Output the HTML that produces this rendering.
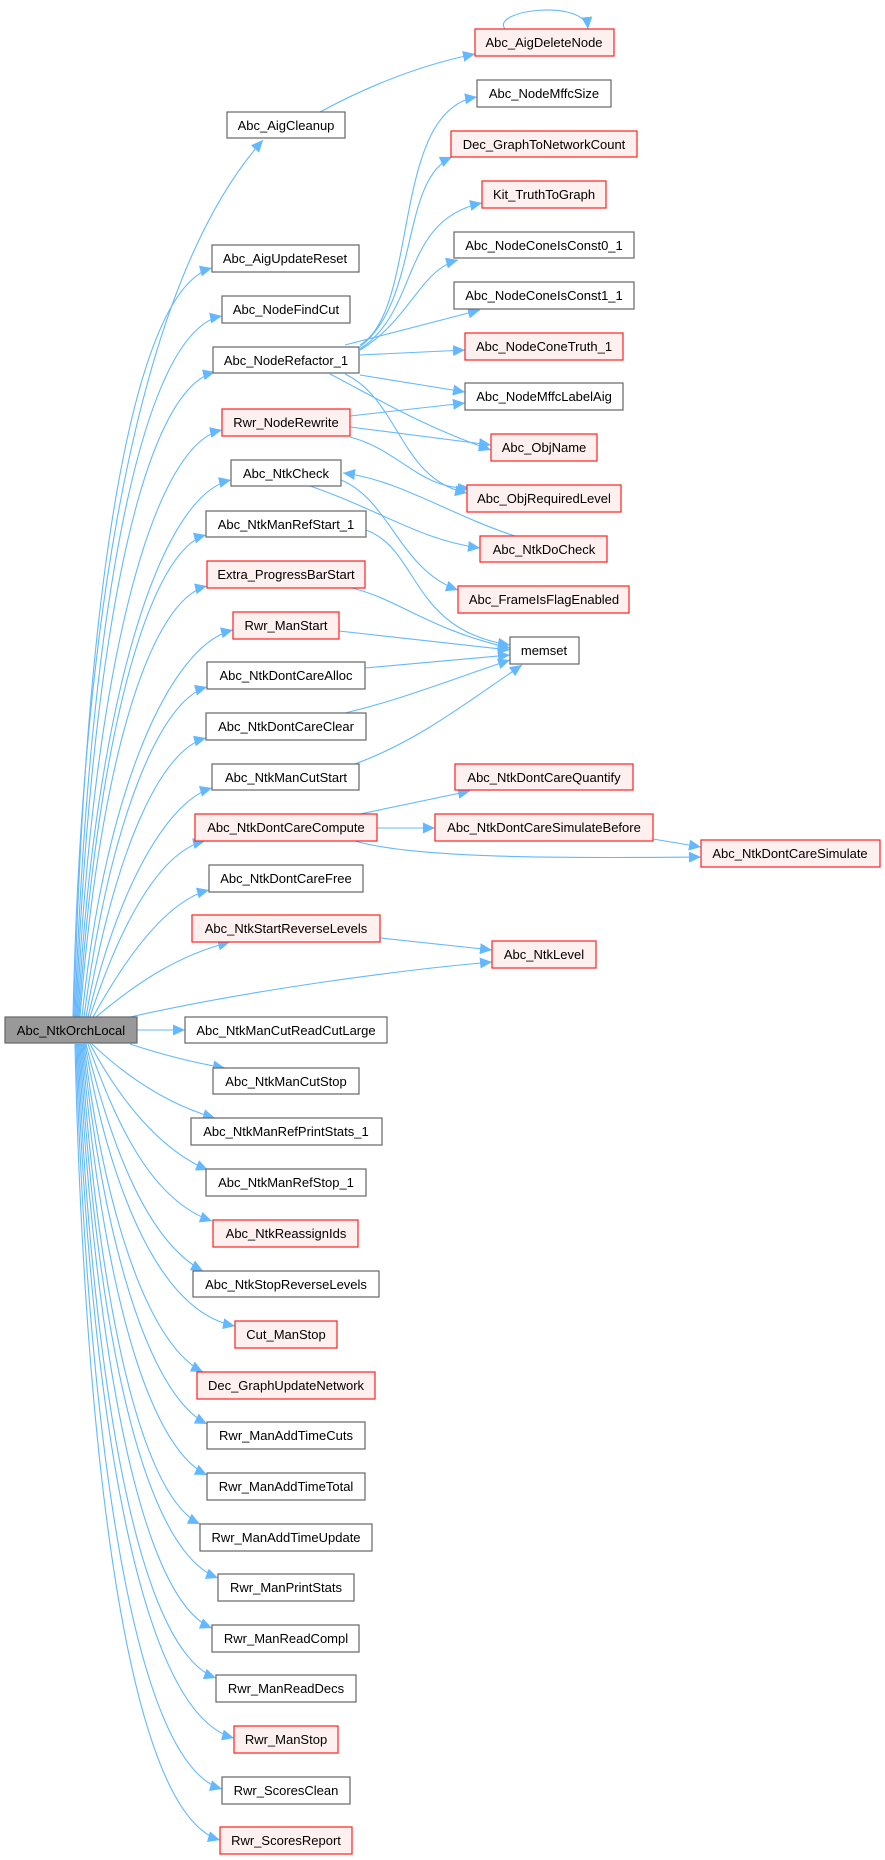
<!DOCTYPE html>
<html><head><meta charset="utf-8"><style>
html,body{margin:0;padding:0;background:#fff;}
svg{display:block;}
text{font-family:"Liberation Sans",sans-serif;font-size:13px;fill:#000;}
.n{fill:#fff;stroke:#666;stroke-width:1.2}
.r{fill:#fff0f0;stroke:#ff2020;stroke-width:1.2}
.e{fill:none;stroke:#63b8ff;stroke-width:1.1;marker-end:url(#a)}
</style></head><body>
<svg width="885" height="1860" viewBox="0 0 885 1860" xmlns="http://www.w3.org/2000/svg">
<defs><marker id="a" markerUnits="userSpaceOnUse" markerWidth="14" markerHeight="12" refX="12" refY="6" orient="auto"><path d="M0,0.5 L12,6 L0,11.5 Z" fill="#63b8ff"/></marker></defs>
<g>
<path class="e" d="M73,1017 C80,700 120,300 263,140"/>
<path class="e" d="M74,1017 C85,600 130,290 212,268"/>
<path class="e" d="M75,1017 C88,620 140,330 222,316"/>
<path class="e" d="M76,1017 C90,650 140,390 215,372"/>
<path class="e" d="M77,1017 C92,680 150,445 222,430"/>
<path class="e" d="M78,1017 C95,700 160,495 231,480"/>
<path class="e" d="M79,1017 C98,730 150,550 206,535"/>
<path class="e" d="M80,1017 C100,760 150,600 207,586"/>
<path class="e" d="M82,1017 C105,790 170,645 233,630"/>
<path class="e" d="M84,1017 C110,820 160,700 207,687"/>
<path class="e" d="M86,1017 C115,850 160,750 206,738"/>
<path class="e" d="M88,1017 C120,880 170,800 212,788"/>
<path class="e" d="M90,1017 C125,910 165,850 205,841"/>
<path class="e" d="M93,1017 C130,950 170,900 209,890"/>
<path class="e" d="M96,1017 C140,980 180,955 230,942"/>
<path class="e" d="M130,1017 C250,990 400,970 492,962"/>
<path class="e" d="M137,1030 L185,1030"/>
<path class="e" d="M130,1044 C160,1054 190,1062 225,1068"/>
<path class="e" d="M92,1044 C130,1080 170,1105 215,1118"/>
<path class="e" d="M90,1044 C120,1100 160,1150 208,1170"/>
<path class="e" d="M88,1044 C115,1120 150,1200 212,1221"/>
<path class="e" d="M86,1044 C110,1140 145,1240 203,1271"/>
<path class="e" d="M85,1044 C105,1160 150,1310 235,1326"/>
<path class="e" d="M84,1044 C100,1180 140,1340 203,1372"/>
<path class="e" d="M83,1044 C98,1200 140,1390 207,1424"/>
<path class="e" d="M82,1044 C96,1220 135,1440 207,1475"/>
<path class="e" d="M81,1044 C94,1240 130,1490 200,1524"/>
<path class="e" d="M80,1044 C92,1260 130,1545 218,1578"/>
<path class="e" d="M79,1044 C90,1280 130,1595 212,1628"/>
<path class="e" d="M78,1044 C88,1300 125,1645 216,1678"/>
<path class="e" d="M77,1044 C86,1320 125,1710 234,1738"/>
<path class="e" d="M76,1044 C84,1340 120,1760 222,1789"/>
<path class="e" d="M75,1044 C82,1360 115,1810 220,1840"/>
<path class="e" d="M320,112 C370,85 420,65 475,54"/>
<path class="e" d="M505,29 C490,10 585,-2 588,29"/>
<path class="e" d="M360,345 C420,310 390,110 477,97"/>
<path class="e" d="M360,347 C420,300 400,180 452,157"/>
<path class="e" d="M360,349 C420,310 400,220 482,203"/>
<path class="e" d="M360,350 C410,320 420,270 458,260"/>
<path class="e" d="M345,345 L480,310"/>
<path class="e" d="M360,355 L465,350"/>
<path class="e" d="M360,375 L465,392"/>
<path class="e" d="M330,374 C380,400 420,425 491,450"/>
<path class="e" d="M345,374 C400,400 400,480 467,493"/>
<path class="e" d="M350,416 L465,403"/>
<path class="e" d="M350,427 L491,445"/>
<path class="e" d="M350,437 C400,450 420,490 470,488"/>
<path class="e" d="M310,486 C380,510 420,540 480,548"/>
<path class="e" d="M341,480 C390,500 400,570 458,590"/>
<path class="e" d="M515,536 C450,515 400,480 343,473"/>
<path class="e" d="M366,530 C420,550 410,630 510,645"/>
<path class="e" d="M352,588 C400,600 430,630 510,648"/>
<path class="e" d="M339,631 L510,650"/>
<path class="e" d="M365,668 L510,655"/>
<path class="e" d="M345,713 C400,700 450,680 510,660"/>
<path class="e" d="M355,764 C420,740 470,700 522,665"/>
<path class="e" d="M360,814 L470,791"/>
<path class="e" d="M377,828 L435,828"/>
<path class="e" d="M355,841 C420,860 600,858 701,857"/>
<path class="e" d="M653,839 L701,847"/>
<path class="e" d="M380,938 L492,950"/>
</g>
<g text-anchor="middle">
<rect x="5" y="1017" width="132" height="26" fill="#999" stroke="#666" stroke-width="1.2"/><text x="71" y="1035">Abc_NtkOrchLocal</text>
<rect class="n" x="227" y="112" width="118" height="26"/><text x="286" y="130">Abc_AigCleanup</text>
<rect class="n" x="212" y="245" width="147" height="27"/><text x="285" y="263">Abc_AigUpdateReset</text>
<rect class="n" x="222" y="296" width="128" height="27"/><text x="286" y="314">Abc_NodeFindCut</text>
<rect class="n" x="213" y="347" width="146" height="26"/><text x="286" y="365">Abc_NodeRefactor_1</text>
<rect class="r" x="222" y="409" width="128" height="27"/><text x="286" y="427">Rwr_NodeRewrite</text>
<rect class="n" x="231" y="460" width="110" height="26"/><text x="286" y="478">Abc_NtkCheck</text>
<rect class="n" x="206" y="511" width="160" height="26"/><text x="286" y="529">Abc_NtkManRefStart_1</text>
<rect class="r" x="207" y="561" width="158" height="27"/><text x="286" y="579">Extra_ProgressBarStart</text>
<rect class="r" x="233" y="612" width="106" height="27"/><text x="286" y="630">Rwr_ManStart</text>
<rect class="n" x="207" y="662" width="158" height="27"/><text x="286" y="680">Abc_NtkDontCareAlloc</text>
<rect class="n" x="206" y="713" width="160" height="27"/><text x="286" y="731">Abc_NtkDontCareClear</text>
<rect class="n" x="212" y="764" width="147" height="26"/><text x="286" y="782">Abc_NtkManCutStart</text>
<rect class="r" x="195" y="814" width="182" height="27"/><text x="286" y="832">Abc_NtkDontCareCompute</text>
<rect class="n" x="209" y="865" width="154" height="27"/><text x="286" y="883">Abc_NtkDontCareFree</text>
<rect class="r" x="192" y="915" width="188" height="27"/><text x="286" y="933">Abc_NtkStartReverseLevels</text>
<rect class="n" x="185" y="1017" width="202" height="26"/><text x="286" y="1035">Abc_NtkManCutReadCutLarge</text>
<rect class="n" x="213" y="1068" width="146" height="26"/><text x="286" y="1086">Abc_NtkManCutStop</text>
<rect class="n" x="191" y="1118" width="191" height="27"/><text x="286" y="1136">Abc_NtkManRefPrintStats_1</text>
<rect class="n" x="206" y="1169" width="160" height="27"/><text x="286" y="1187">Abc_NtkManRefStop_1</text>
<rect class="r" x="213" y="1220" width="145" height="27"/><text x="286" y="1238">Abc_NtkReassignIds</text>
<rect class="n" x="193" y="1271" width="186" height="26"/><text x="286" y="1289">Abc_NtkStopReverseLevels</text>
<rect class="r" x="235" y="1321" width="102" height="27"/><text x="286" y="1339">Cut_ManStop</text>
<rect class="r" x="197" y="1372" width="178" height="27"/><text x="286" y="1390">Dec_GraphUpdateNetwork</text>
<rect class="n" x="207" y="1422" width="158" height="27"/><text x="286" y="1440">Rwr_ManAddTimeCuts</text>
<rect class="n" x="207" y="1473" width="158" height="27"/><text x="286" y="1491">Rwr_ManAddTimeTotal</text>
<rect class="n" x="200" y="1524" width="172" height="27"/><text x="286" y="1542">Rwr_ManAddTimeUpdate</text>
<rect class="n" x="218" y="1574" width="136" height="27"/><text x="286" y="1592">Rwr_ManPrintStats</text>
<rect class="n" x="212" y="1625" width="147" height="27"/><text x="286" y="1643">Rwr_ManReadCompl</text>
<rect class="n" x="216" y="1675" width="140" height="27"/><text x="286" y="1693">Rwr_ManReadDecs</text>
<rect class="r" x="234" y="1726" width="104" height="27"/><text x="286" y="1744">Rwr_ManStop</text>
<rect class="n" x="222" y="1777" width="128" height="27"/><text x="286" y="1795">Rwr_ScoresClean</text>
<rect class="r" x="220" y="1827" width="132" height="27"/><text x="286" y="1845">Rwr_ScoresReport</text>

<rect class="r" x="475" y="29" width="139" height="27"/><text x="544" y="47">Abc_AigDeleteNode</text>
<rect class="n" x="477" y="80" width="134" height="27"/><text x="544" y="98">Abc_NodeMffcSize</text>
<rect class="r" x="451" y="131" width="186" height="26"/><text x="544" y="149">Dec_GraphToNetworkCount</text>
<rect class="r" x="482" y="181" width="124" height="27"/><text x="544" y="199">Kit_TruthToGraph</text>
<rect class="n" x="454" y="232" width="180" height="26"/><text x="544" y="250">Abc_NodeConeIsConst0_1</text>
<rect class="n" x="454" y="282" width="180" height="27"/><text x="544" y="300">Abc_NodeConeIsConst1_1</text>
<rect class="r" x="465" y="333" width="158" height="27"/><text x="544" y="351">Abc_NodeConeTruth_1</text>
<rect class="n" x="465" y="383" width="158" height="27"/><text x="544" y="401">Abc_NodeMffcLabelAig</text>
<rect class="r" x="491" y="434" width="106" height="27"/><text x="544" y="452">Abc_ObjName</text>
<rect class="r" x="467" y="485" width="154" height="27"/><text x="544" y="503">Abc_ObjRequiredLevel</text>
<rect class="r" x="480" y="536" width="127" height="26"/><text x="544" y="554">Abc_NtkDoCheck</text>
<rect class="r" x="458" y="586" width="171" height="27"/><text x="544" y="604">Abc_FrameIsFlagEnabled</text>
<rect class="n" x="510" y="637" width="69" height="27"/><text x="544" y="655">memset</text>
<rect class="r" x="455" y="764" width="178" height="26"/><text x="544" y="782">Abc_NtkDontCareQuantify</text>
<rect class="r" x="435" y="814" width="218" height="27"/><text x="544" y="832">Abc_NtkDontCareSimulateBefore</text>
<rect class="r" x="701" y="840" width="179" height="27"/><text x="790" y="858">Abc_NtkDontCareSimulate</text>
<rect class="r" x="492" y="941" width="104" height="27"/><text x="544" y="959">Abc_NtkLevel</text>
</g>
</svg>
</body></html>
